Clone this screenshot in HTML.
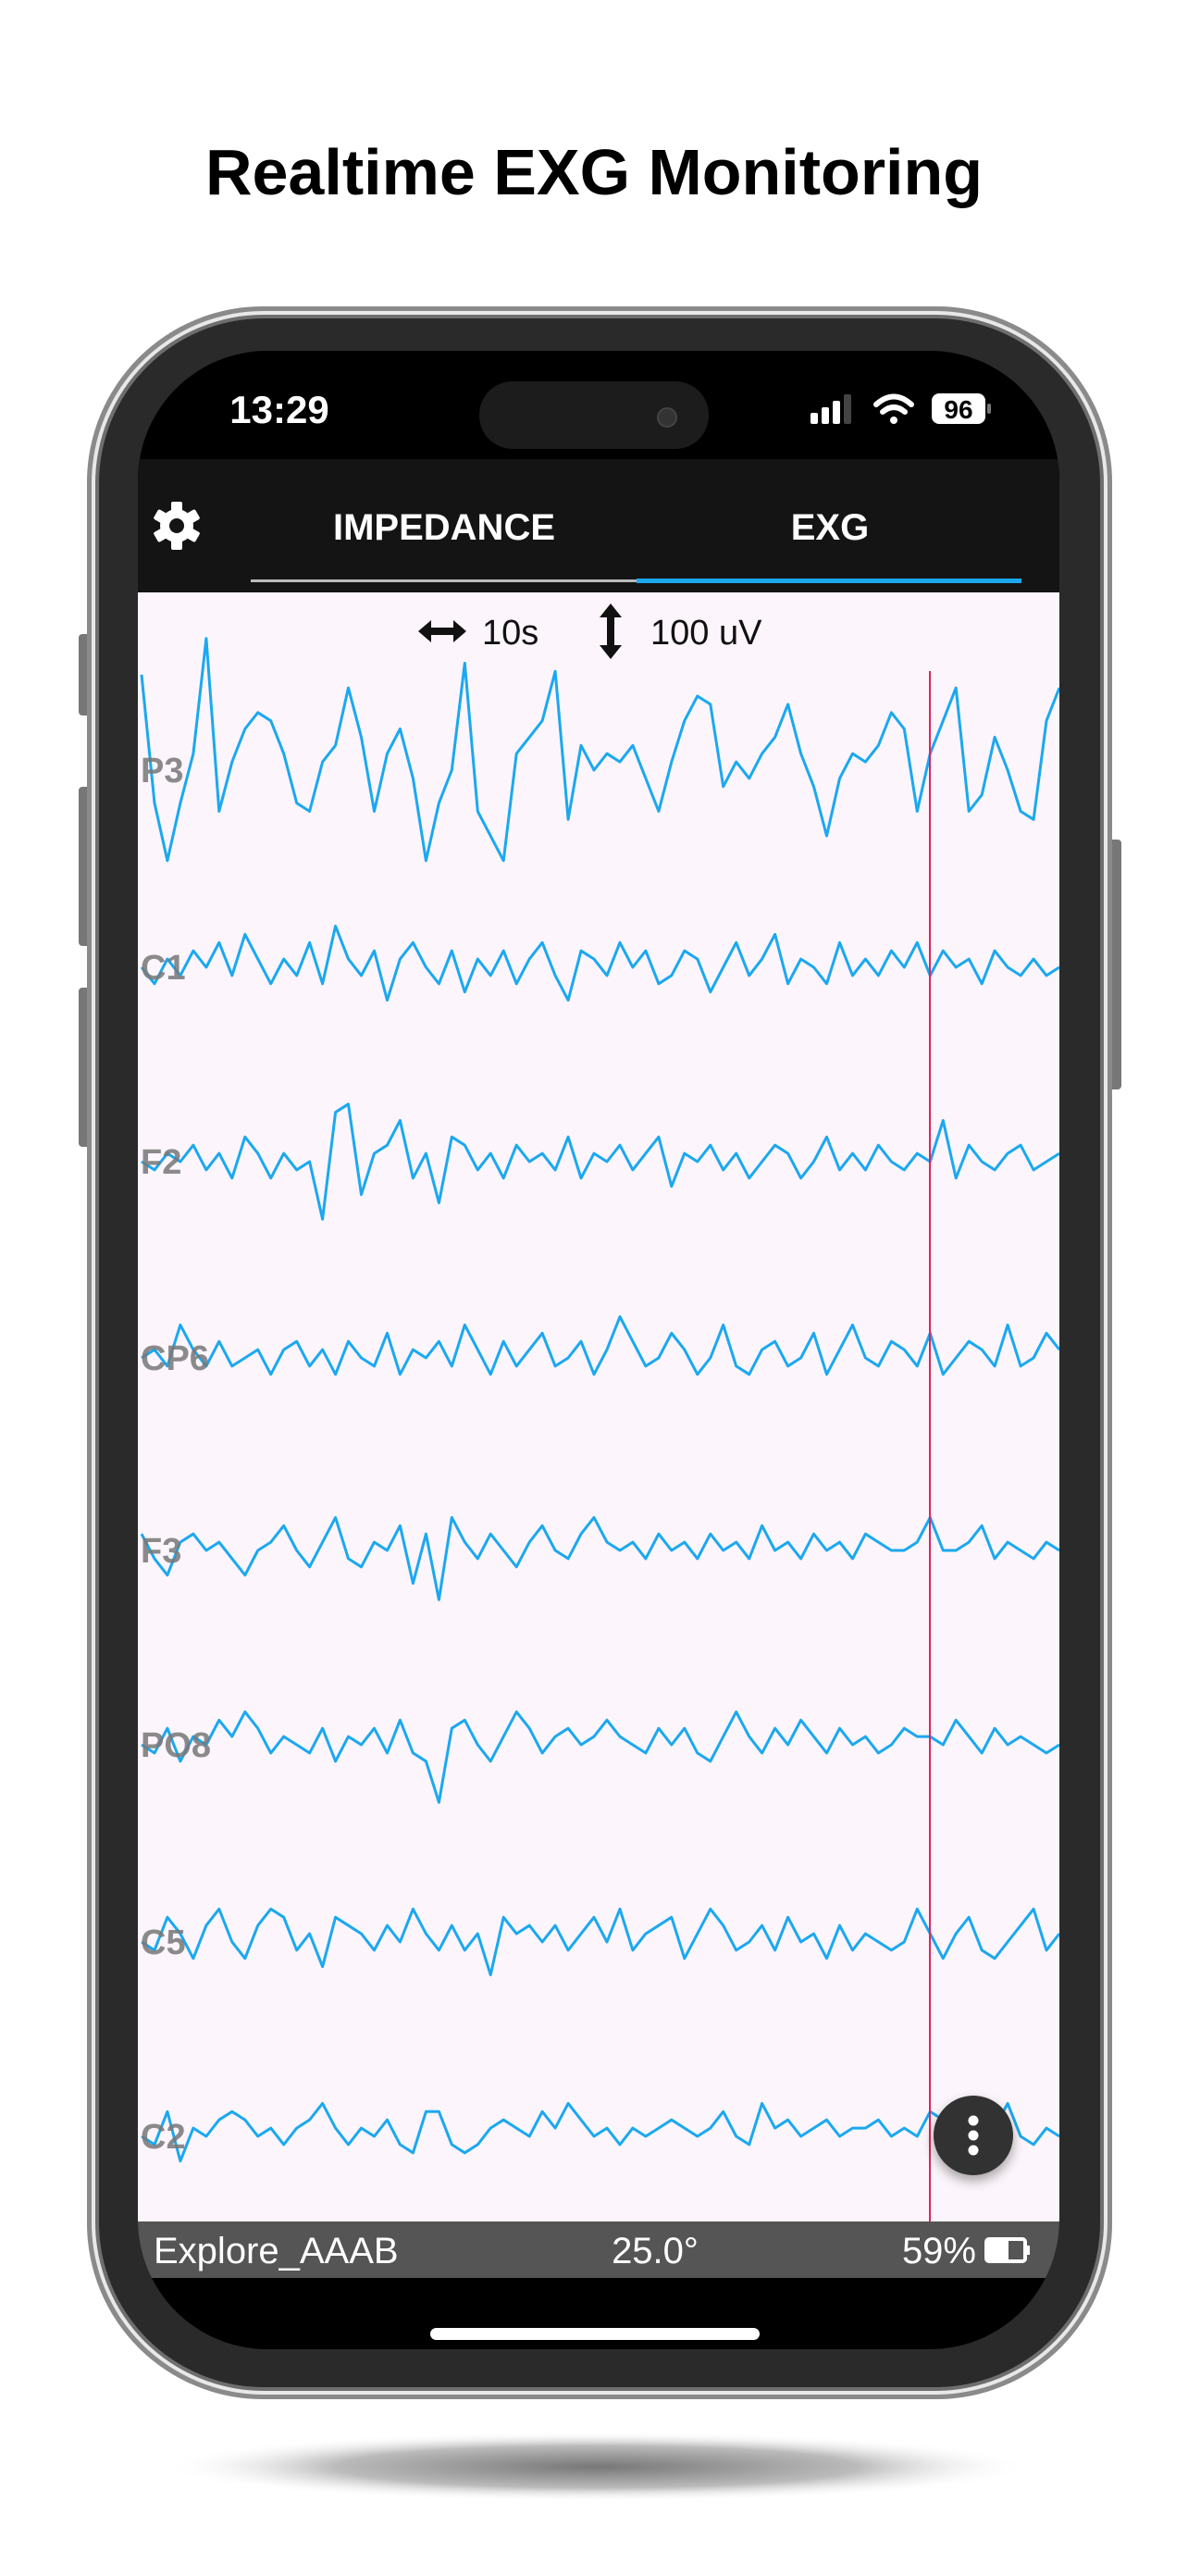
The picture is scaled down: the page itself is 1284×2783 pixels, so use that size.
<!DOCTYPE html>
<html><head><meta charset="utf-8"><style>
html,body{margin:0;padding:0;background:#fff;}
body{width:1284px;height:2778px;overflow:hidden;font-family:"Liberation Sans",sans-serif;}
</style></head><body>
<svg id="svg" width="1284" height="2778" viewBox="0 0 1284 2778" xmlns="http://www.w3.org/2000/svg">
<defs>
<radialGradient id="shadow" cx="0.5" cy="0.5" r="0.5">
<stop offset="0" stop-color="#777"/><stop offset="0.6" stop-color="#bbb"/><stop offset="1" stop-color="#fff" stop-opacity="0"/>
</radialGradient>
<clipPath id="screenclip"><rect x="149" y="379" width="996" height="2159" rx="140"/></clipPath>
<filter id="fabsh" x="-50%" y="-50%" width="200%" height="200%"><feDropShadow dx="0" dy="6" stdDeviation="6" flood-color="#000" flood-opacity="0.35"/></filter>
</defs>
<text x="642" y="210" text-anchor="middle" font-size="70" font-weight="bold" fill="#000">Realtime EXG Monitoring</text>
<ellipse cx="645" cy="2665" rx="470" ry="38" fill="url(#shadow)"/>
<rect x="85" y="685" width="14" height="88" rx="4" fill="#777"/>
<rect x="85" y="850" width="14" height="172" rx="4" fill="#777"/>
<rect x="85" y="1067" width="14" height="172" rx="4" fill="#777"/>
<rect x="1196" y="907" width="16" height="270" rx="4" fill="#777"/>
<g>
<rect x="94" y="331" width="1108" height="2261" rx="190" fill="#8a8a8a"/>
<rect x="99" y="336" width="1098" height="2251" rx="186" fill="#e8e8e8"/>
<rect x="103" y="340" width="1090" height="2243" rx="182" fill="#6e6e6e"/>
<rect x="107" y="344" width="1082" height="2235" rx="178" fill="#2a2a2a"/>
<rect x="149" y="379" width="996" height="2159" rx="140" fill="#000"/>
</g>
<g clip-path="url(#screenclip)">
<text x="302" y="457" text-anchor="middle" font-size="42" font-weight="bold" fill="#fff">13:29</text>
<rect x="518" y="412" width="248" height="73" rx="36" fill="#1c1c1c"/>
<circle cx="721" cy="451" r="10" fill="#333" stroke="#444" stroke-width="2"/>
<g fill="#fff">
<rect x="876" y="446" width="8" height="12" rx="2"/><rect x="888" y="440" width="8" height="18" rx="2"/><rect x="900" y="433" width="8" height="25" rx="2"/><rect x="912" y="426" width="8" height="32" rx="2" fill="#444"/>
</g>
<g fill="none" stroke="#fff" stroke-width="6" stroke-linecap="round">
<path d="M947 437 Q966 420 985 437"/><path d="M954 445 Q966 435 978 445"/><circle cx="966" cy="454" r="4" fill="#fff" stroke="none"/>
</g>
<g>
<rect x="1007" y="425" width="58" height="33" rx="8" fill="#fff"/>
<rect x="1067" y="436" width="4" height="11" rx="2" fill="#777"/>
<text x="1036" y="452" text-anchor="middle" font-size="28" font-weight="bold" fill="#000">96</text>
</g>
<rect x="149" y="496" width="996" height="144" fill="#141414"/>
<g transform="translate(191,568)">
<circle r="18" fill="#fff"/>
<g fill="#fff"><rect x="-6" y="-26" width="12" height="52" rx="2"/><rect x="-6" y="-26" width="12" height="52" rx="2" transform="rotate(60)"/><rect x="-6" y="-26" width="12" height="52" rx="2" transform="rotate(120)"/></g>
<circle r="8" fill="#141414"/>
</g>
<text x="480" y="583" text-anchor="middle" font-size="40" font-weight="bold" fill="#fff">IMPEDANCE</text>
<text x="897" y="583" text-anchor="middle" font-size="40" font-weight="bold" fill="#fff">EXG</text>
<rect x="271" y="626" width="417" height="3" fill="#bbb"/>
<rect x="688" y="625" width="416" height="5" fill="#1ba8f0"/>
<rect x="149" y="640" width="996" height="1760" fill="#fcf5fb"/>
<g>
<path d="M452 682 L466 670 L466 678 L490 678 L490 670 L504 682 L490 694 L490 686 L466 686 L466 694 Z" fill="#111"/>
<text x="521" y="696" font-size="38" fill="#111">10s</text>
</g>
<g>
<path d="M660 652 L672 667 L664 667 L664 697 L672 697 L660 712 L648 697 L656 697 L656 667 L648 667 Z" fill="#111"/>
<text x="703" y="696" font-size="38" fill="#111">100 uV</text>
</g>
<g id="traces"></g>
<rect x="1004" y="725" width="2" height="1675" fill="#e0245e"/>
<g filter="url(#fabsh)">
<circle cx="1052" cy="2307" r="43" fill="#333"/>
<circle cx="1052" cy="2291" r="5.5" fill="#fff"/><circle cx="1052" cy="2307" r="5.5" fill="#fff"/><circle cx="1052" cy="2323" r="5.5" fill="#fff"/>
</g>
<rect x="149" y="2400" width="996" height="61" fill="#555"/>
<text x="166" y="2445" font-size="40" fill="#fff">Explore_AAAB</text>
<text x="708" y="2445" text-anchor="middle" font-size="40" fill="#fff">25.0°</text>
<text x="1055" y="2445" text-anchor="end" font-size="40" fill="#fff">59%</text>
<g>
<rect x="1066" y="2419" width="42" height="24" rx="3" fill="none" stroke="#fff" stroke-width="4"/>
<rect x="1068" y="2421" width="22" height="20" fill="#fff"/>
<rect x="1108" y="2426" width="5" height="10" fill="#fff"/>
</g>
<rect x="465" y="2515" width="356" height="13" rx="6.5" fill="#fff"/>
</g>
</svg>
<script>
const channelNames = ["P3","C1","F2","CP6","F3","PO8","C5","C2"];
const channelCenters = [832,1045,1255,1467,1675,1885,2098,2308];
const P3 = [58,-20,-55,-20,10,80,-25,5,25,35,30,10,-20,-25,5,15,50,20,-25,10,25,-5,-55,-20,0,65,-25,-40,-55,10,20,30,60,-30,15,0,10,5,15,-5,-25,5,30,45,40,-10,5,-5,10,20,40,10,-10,-40,-5,10,5,15,35,25,-25,10,30,50,-25,-15,20,0,-25,-30,30,50];
const C1 = [0,-10,5,-5,10,0,15,-5,20,5,-10,5,-5,15,-10,25,5,-5,10,-20,5,15,0,-10,10,-15,5,-5,10,-10,5,15,-5,-20,10,5,-5,15,0,10,-10,-5,10,5,-15,0,15,-5,5,20,-10,5,0,-10,15,-5,5,-5,10,0,15,-5,10,0,5,-10,10,0,-5,5,-5,0];
const F2 = [0,-5,5,0,10,-5,5,-10,15,5,-10,5,-5,0,-35,30,35,-20,5,10,25,-10,5,-25,15,10,-5,5,-10,10,0,5,-5,15,-10,5,0,10,-5,5,15,-15,5,0,10,-5,5,-10,0,10,5,-10,0,15,-5,5,-5,10,0,-5,5,0,25,-10,10,0,-5,5,10,-5,0,5];
const CP6 = [0,5,-5,20,5,-5,10,-5,0,5,-10,5,10,-5,5,-10,10,0,-5,15,-10,5,0,10,-5,20,5,-10,10,-5,5,15,-5,0,10,-10,5,25,10,-5,0,15,5,-10,0,20,-5,-10,5,10,-5,0,15,-10,5,20,0,-5,10,5,-5,15,-10,0,10,5,-5,20,-5,0,15,5];
const F3 = [10,-5,-15,5,10,0,5,-5,-15,0,5,15,0,-10,5,20,-5,-10,5,0,15,-20,10,-30,20,5,-5,10,0,-10,5,15,0,-5,10,20,5,0,5,-5,10,0,5,-5,10,0,5,-5,15,0,5,-5,10,0,5,-5,10,5,0,0,5,20,0,0,5,15,-5,5,0,-5,5,0];
const PO8 = [0,-5,10,-10,5,0,15,5,20,10,-5,5,0,-5,10,-10,5,0,10,-5,15,-5,-10,-35,10,15,0,-10,5,20,10,-5,5,10,0,5,15,5,0,-5,10,0,10,-5,-10,5,20,5,-5,10,0,15,5,-5,10,0,5,-5,0,10,5,5,0,15,5,-5,10,0,5,0,-5,0];
const C5 = [0,-5,15,5,-10,10,20,0,-10,10,20,15,-5,5,-15,15,10,5,-5,10,0,20,5,-5,10,-5,5,-20,15,5,10,0,10,-5,5,15,0,20,-5,5,10,15,-10,5,20,10,-5,0,10,-5,15,0,5,-10,10,-5,5,0,-5,0,20,5,-10,5,15,-5,-10,0,10,20,-5,5];
const C2 = [0,-5,15,-15,5,0,10,15,10,0,5,-5,5,10,20,5,-5,5,0,10,-5,-10,15,15,-5,-10,-5,5,10,5,0,15,5,20,10,0,5,-5,5,0,5,10,5,0,5,15,0,-5,20,5,10,0,5,10,0,5,5,10,0,5,0,15,10,-5,0,10,5,20,0,-5,5,0];
const channelData = [P3,C1,F2,CP6,F3,PO8,C5,C2];

const X0 = 153, X1 = 1145, UNIT = 1.778;
function xScale(i, n){ return X0 + (X1 - X0) * i / (n - 1); }
function yScale(v, c){ return c - v * UNIT; }
const NS = "http://www.w3.org/2000/svg";
const g = document.getElementById("traces");
channelData.forEach(function(arr, ci){
  const c = channelCenters[ci];
  let d = "";
  arr.forEach(function(v, i){ d += (i ? "L" : "M") + xScale(i, arr.length).toFixed(1) + " " + yScale(v, c).toFixed(1) + " "; });
  const p = document.createElementNS(NS, "path");
  p.setAttribute("d", d);
  p.setAttribute("fill", "none");
  p.setAttribute("stroke", "#1ba8f0");
  p.setAttribute("stroke-width", "3");
  p.setAttribute("stroke-linejoin", "round");
  
  
  g.appendChild(p);
  const t = document.createElementNS(NS, "text");
  t.setAttribute("x", "152");
  t.setAttribute("y", String(c + 13));
  t.setAttribute("font-size", "38");
  t.setAttribute("font-weight", "bold");
  t.setAttribute("fill", "#777");
  t.setAttribute("fill-opacity", "0.85");
  t.textContent = channelNames[ci];
  
  
  g.appendChild(t);
});
</script>
</body></html>
